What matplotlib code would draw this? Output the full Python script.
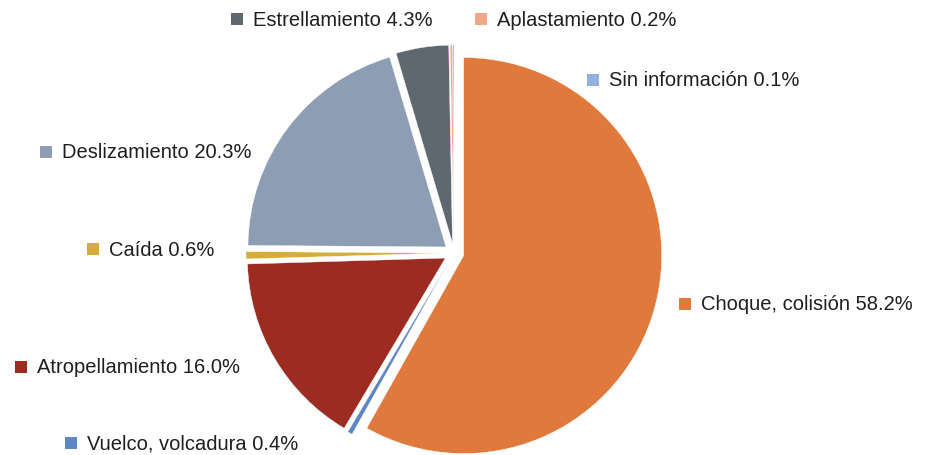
import matplotlib
matplotlib.use("Agg")
import matplotlib.pyplot as plt

categories = ["Choque, colisión", "Vuelco, volcadura", "Atropellamiento", "Caída",
              "Deslizamiento", "Estrellamiento", "Aplastamiento", "Sin información"]
values = [58.2, 0.4, 16.0, 0.6, 20.3, 4.3, 0.2, 0.1]
colors = ["#E07A3C", "#5F86C4", "#9C2B22", "#D4AD3A",
          "#8C9DB4", "#5F6770", "#F5A588", "#93B1DF"]
labels = [f"{c} {v:.1f}%" for c, v in zip(categories, values)]

# label anchor positions (pixel coords from top-left: square left x, center y)
label_pos = {
    "Choque, colisión": (679, 305),
    "Vuelco, volcadura": (65, 444),
    "Atropellamiento": (15, 368),
    "Caída": (87, 250),
    "Deslizamiento": (40, 153),
    "Estrellamiento": (231, 20),
    "Aplastamiento": (475, 20),
    "Sin información": (587, 81),
}

W, H = 925, 456
fig = plt.figure(figsize=(W / 100, H / 100), dpi=100)
ax = fig.add_axes([0, 0, 1, 1])

cx, cy, r = 454, H - 254, 198
explode = [10, 10, 10, 10, 10, 10, 10, 10]
ax.pie(values, colors=colors, startangle=90, counterclock=False, center=(cx, cy),
       radius=r, explode=explode, normalize=True,
       wedgeprops=dict(edgecolor="white", linewidth=0.3))
ax.set_xlim(0, W)
ax.set_ylim(0, H)
ax.set_aspect("equal")
ax.axis("off")

for cat, lab, col in zip(categories, labels, colors):
    x, y = label_pos[cat]
    yy = H - y
    ax.scatter([x + 6], [yy], marker="s", s=78, color=col, linewidths=0, zorder=5)
    ax.text(x + 22, yy, lab, fontsize=14.5, family="Liberation Sans", color="#1f1f1f",
            va="center", ha="left")

fig.savefig("out.png", dpi=100)
